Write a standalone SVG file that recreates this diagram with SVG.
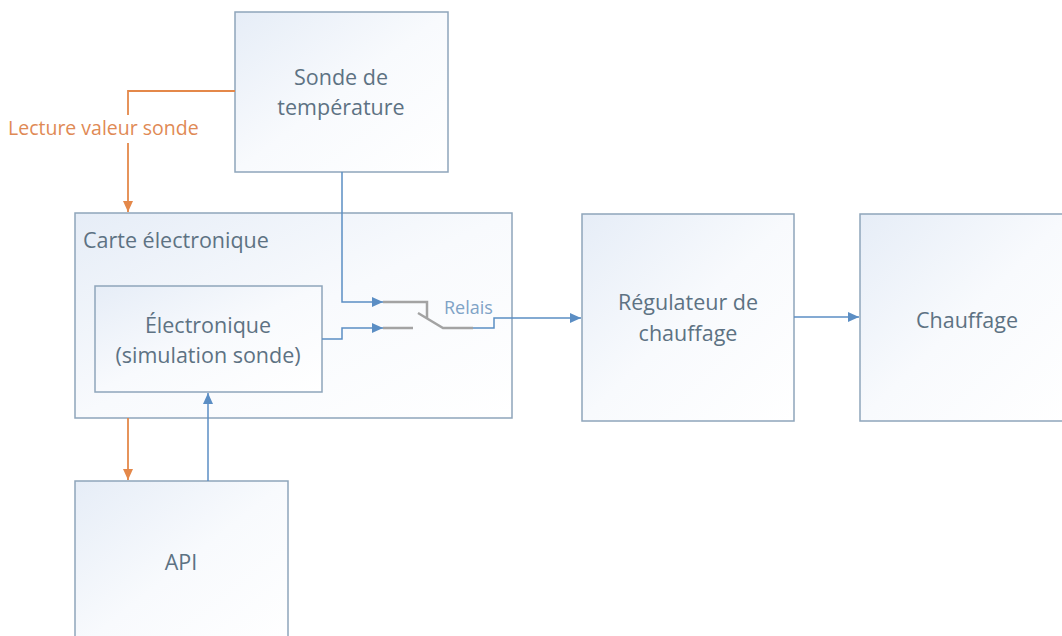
<svg xmlns="http://www.w3.org/2000/svg" width="1062" height="636" viewBox="0 0 1062 636">
<style>
.box{stroke:#8ea5bb;stroke-width:1.5;fill:url(#g)}
.t{font-family:"Open Sans","Noto Sans",sans-serif;font-size:21.5px;fill:#5d7283;text-anchor:middle}
.bl{fill:none;stroke:#5b8ec4;stroke-width:1.5}
.or{fill:none;stroke:#e4884a;stroke-width:1.8}
.gr{fill:none;stroke:#a3a3a3;stroke-width:2.5}
</style>
<defs>
<linearGradient id="g" x1="0" y1="0" x2="1" y2="1">
<stop offset="0" stop-color="#e6edf7"/>
<stop offset="0.5" stop-color="#f8fafd"/>
<stop offset="1" stop-color="#ffffff"/>
</linearGradient>
<marker id="ab" markerWidth="12" markerHeight="10" refX="11" refY="5" orient="auto" markerUnits="userSpaceOnUse">
<path d="M0,0 L11,5 L0,10 z" fill="#5b8ec4"/>
</marker>
<marker id="ao" markerWidth="12" markerHeight="10" refX="11" refY="5" orient="auto" markerUnits="userSpaceOnUse">
<path d="M0,0 L11,5 L0,10 z" fill="#e4884a"/>
</marker>
</defs>
<rect width="1062" height="636" fill="#ffffff"/>
<g id="sonde">
<rect class="box" x="235" y="12" width="213" height="160"/>
<text class="t" x="341" y="85">Sonde de</text>
<text class="t" x="341" y="115">température</text>
</g>
<g id="carte">
<rect class="box" x="75" y="213" width="437" height="205"/>
<text class="t" x="83" y="248" style="text-anchor:start">Carte électronique</text>
</g>
<g id="electronique">
<rect class="box" x="95" y="286" width="227" height="106"/>
<text class="t" x="208" y="333">Électronique</text>
<text class="t" x="208" y="363">(simulation sonde)</text>
</g>
<g id="regulateur">
<rect class="box" x="582" y="214" width="212" height="207"/>
<text class="t" x="688" y="310">Régulateur de</text>
<text class="t" x="688" y="341">chauffage</text>
</g>
<g id="chauffage">
<rect class="box" x="860" y="214" width="210" height="207"/>
<text class="t" x="967" y="328">Chauffage</text>
</g>
<g id="api">
<rect class="box" x="75" y="481" width="213" height="170"/>
<text class="t" x="181" y="570">API</text>
</g>
<g id="connectors">
<path class="or" d="M235,91 H128 V115"/>
<path class="or" d="M128,143 V212" marker-end="url(#ao)"/>
<text x="8" y="135" style="font-family:'Open Sans','Noto Sans',sans-serif;font-size:19.5px;fill:#df8a55">Lecture valeur sonde</text>
<path class="or" d="M128,418 V480" marker-end="url(#ao)"/>
<path class="bl" d="M208,481 V393" marker-end="url(#ab)"/>
<path class="bl" d="M342,172 V302 H383" marker-end="url(#ab)"/>
<path class="bl" d="M322,339 H342 V328 H383" marker-end="url(#ab)"/>
<path class="gr" d="M383,302 H427 V318"/>
<path class="gr" d="M383,328 H413"/>
<path class="gr" d="M418,313 L443,328 H473"/>
<path class="bl" d="M473,328 H494 V318 H581" marker-end="url(#ab)"/>
<text x="444" y="314" style="font-family:'Open Sans','Noto Sans',sans-serif;font-size:18px;fill:#7fa3c6">Relais</text>
<path class="bl" d="M794,317 H859" marker-end="url(#ab)"/>
</g>
</svg>
